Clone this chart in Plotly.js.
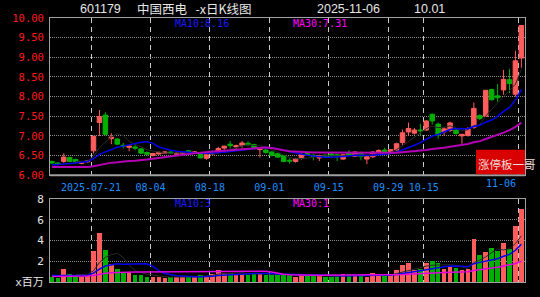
<!DOCTYPE html>
<html><head><meta charset="utf-8">
<script src="https://cdn.plot.ly/plotly-3.0.1.min.js"></script>
<style>html,body{margin:0;padding:0;background:#000;} #chart{width:540px;height:297px;}</style>
</head><body><div id="chart"></div>
<script>
// ---- data ----
const dates = ['07-10','07-11','07-14','07-15','07-16','07-17','07-18','07-21','07-22','07-23','07-24','07-25','07-28','07-29','07-30','07-31',
'08-01','08-04','08-05','08-06','08-07','08-08','08-11','08-12','08-13','08-14','08-15','08-18','08-19','08-20','08-21','08-22','08-25','08-26','08-27','08-28','08-29',
'09-01','09-02','09-03','09-04','09-05','09-08','09-09','09-10','09-11','09-12','09-15','09-16','09-17','09-18','09-19','09-22','09-23','09-24','09-25','09-26','09-29','09-30',
'10-09','10-10','10-13','10-14','10-15','10-16','10-17','10-20','10-21','10-22','10-23','10-24','10-27','10-28','10-29','10-30','10-31',
'11-03','11-04','11-05','11-06'];
const openP = [6.35,6.31,6.35,6.45,6.40,6.30,6.34,6.62,7.34,7.53, 6.93,6.92,6.76,6.71,6.72,6.67,6.58,6.50,6.54,6.56,
 6.59,6.53,6.55,6.62,6.57,6.55,6.43,6.54,6.58,6.69, 6.79,6.72,6.76,6.81,6.78,6.65,6.64,6.59,6.55,6.50,
 6.38,6.35,6.43,6.55,6.51,6.44,6.51,6.54,6.52,6.41, 6.57,6.48,6.57,6.41,6.47,6.58,6.64,6.59,6.64,6.83,
 7.10,7.07,7.15,7.15,7.55,7.30,7.10,7.14,7.15,7.00, 7.01,7.22,7.52,7.50,8.18,8.02,8.17,8.43,8.06,8.98];
const highP = [6.37,6.33,6.56,6.47,6.42,6.34,6.39,7.00,7.66,7.60, 7.07,6.94,6.82,6.75,6.77,6.68,6.60,6.57,6.61,6.61,
 6.61,6.58,6.61,6.64,6.61,6.56,6.53,6.62,6.72,6.75, 6.87,6.78,6.87,6.86,6.80,6.70,6.66,6.61,6.57,6.51,
 6.43,6.44,6.56,6.58,6.53,6.52,6.53,6.57,6.54,6.53, 6.64,6.61,6.60,6.49,6.61,6.66,6.70,6.67,6.83,7.16,
 7.34,7.20,7.31,7.40,7.57,7.34,7.23,7.36,7.18,7.05, 7.22,7.85,7.55,8.17,8.20,8.32,8.68,8.70,9.17,9.82];
const lowP = [6.29,6.25,6.31,6.33,6.32,6.28,6.32,6.55,7.00,7.02, 6.79,6.77,6.68,6.61,6.64,6.54,6.50,6.48,6.52,6.54,
 6.54,6.51,6.53,6.57,6.55,6.43,6.39,6.52,6.56,6.61, 6.68,6.64,6.70,6.74,6.70,6.45,6.55,6.48,6.44,6.33,
 6.29,6.32,6.40,6.49,6.38,6.36,6.46,6.45,6.36,6.39, 6.49,6.46,6.38,6.28,6.44,6.56,6.55,6.57,6.62,6.76,
 7.00,7.03,7.01,7.13,7.29,6.93,7.00,7.10,7.03,6.80, 6.98,7.18,7.40,7.48,7.90,7.87,8.05,8.09,8.00,8.73];
const closeP = [6.31,6.27,6.46,6.35,6.34,6.32,6.37,6.99,7.49,7.04, 6.97,6.79,6.74,6.74,6.69,6.56,6.53,6.55,6.58,6.59,
 6.56,6.56,6.59,6.59,6.59,6.44,6.52,6.58,6.68,6.74, 6.75,6.75,6.82,6.78,6.71,6.68,6.58,6.50,6.46,6.35,
 6.36,6.42,6.53,6.51,6.48,6.50,6.48,6.49,6.47,6.52, 6.51,6.59,6.48,6.47,6.59,6.63,6.59,6.65,6.80,7.08,
 7.19,7.15,7.13,7.38,7.38,7.02,7.18,7.33,7.06,7.04, 7.18,7.70,7.44,8.16,7.92,7.97,8.44,8.33,8.91,9.81];
const volume = [0.45,0.39,1.29,0.75,0.65,0.45,0.58,2.97,4.74,3.13, 1.75,1.29,0.86,0.96,0.72,0.71,0.50,0.45,0.50,0.42,
 0.47,0.50,0.47,0.47,0.60,0.72,0.60,0.76,1.20,0.82, 0.85,0.80,0.80,0.72,0.85,0.80,0.72,0.63,0.63,0.63,
 0.63,0.50,0.80,0.56,0.56,0.56,0.50,0.50,0.56,0.80, 0.80,0.56,0.56,0.50,0.88,0.72,0.63,0.63,1.20,1.60,
 1.79,1.20,1.28,1.79,2.00,1.85,1.28,1.45,1.35,1.16, 1.29,4.17,2.56,2.88,3.30,2.98,3.72,3.14,5.39,7.00];
const ma10PriceHead = [6.26,6.27,6.28,6.30,6.31,6.33,6.35,6.42,6.53];
const ma30PriceHead = [6.21,6.21,6.21,6.21,6.21,6.21,6.21,6.23,6.26,6.29,6.32,6.33,6.35,6.36,6.37,6.38,6.40,6.42,6.44,6.46,6.48,6.50,6.53,6.54,6.56,6.57,6.59,6.60,6.61];
const ma10VolHead = [0.62,0.62,0.63,0.63,0.64,0.64,0.65,0.85,1.25];
const ma30VolHead = [0.53,0.53,0.54,0.55,0.55,0.56,0.58,0.62,0.75,0.85,0.90,0.93,0.95,0.96,0.97,0.97,0.97,0.97,0.97,0.97,0.97,0.97,0.97,0.97,0.97,0.97,0.97,0.98,0.99];
const tickDates = ['07-21','08-04','08-18','09-01','09-15','09-29','10-15','11-06'];
const tickLabels = ['2025-07-21','08-04','08-18','09-01','09-15','09-29','10-15','11-06'];
const priceTicks = [6,6.5,7,7.5,8,8.5,9,9.5,10];
const volTicks = [0,2,4,6,8];
const volTickText = ['x百万','2','4','6','8'];

// ---- derived ----
const idx = dates.map((d,i)=>i);
function movAvg(arr, n, head){
  return arr.map((v,i)=>{
    if(i < n-1) return head ? head[i] : null;
    let s=0; for(let k=i-n+1;k<=i;k++) s+=arr[k]; return s/n;
  });
}
const ma5P = movAvg(closeP,5,null), ma10P = movAvg(closeP,10,ma10PriceHead), ma30P = movAvg(closeP,30,ma30PriceHead);
const ma5V = movAvg(volume,5,null), ma10V = movAvg(volume,10,ma10VolHead), ma30V = movAvg(volume,30,ma30VolHead);
const UP='#ff5c5c', DN='#00b000';
const volColors = idx.map(i=> closeP[i]>=openP[i]?UP:DN);
const tickPos = tickDates.map(d=>dates.indexOf(d)-0.42);
const tickText = tickLabels.map((t,i)=> i===tickLabels.length-1 ? '' : t);

const traces = [
 {type:'candlestick', x:idx, open:openP, high:highP, low:lowP, close:closeP, xaxis:'x', yaxis:'y',
  increasing:{line:{color:UP,width:1}, fillcolor:UP}, decreasing:{line:{color:DN,width:1}, fillcolor:DN},
  whiskerwidth:0, hoverinfo:'skip', showlegend:false},
 {type:'scatter', mode:'lines', x:idx, y:ma5P, line:{color:'#2a2a2a',width:1}, xaxis:'x', yaxis:'y', hoverinfo:'skip'},
 {type:'scatter', mode:'lines', x:idx, y:ma10P, line:{color:'#0000ee',width:1.5}, xaxis:'x', yaxis:'y', hoverinfo:'skip'},
 {type:'scatter', mode:'lines', x:idx, y:ma30P, line:{color:'#b400b4',width:2}, xaxis:'x', yaxis:'y', hoverinfo:'skip'},
 {type:'bar', x:idx, y:volume, width:0.78, marker:{color:volColors, line:{width:0}}, xaxis:'x2', yaxis:'y2', hoverinfo:'skip'},
 {type:'scatter', mode:'lines', x:idx, y:ma5V, line:{color:'#2a2a2a',width:1}, xaxis:'x2', yaxis:'y2', hoverinfo:'skip'},
 {type:'scatter', mode:'lines', x:idx, y:ma10V, line:{color:'#0000ee',width:1.5}, xaxis:'x2', yaxis:'y2', hoverinfo:'skip'},
 {type:'scatter', mode:'lines', x:idx, y:ma30V, line:{color:'#e000e0',width:1.5}, xaxis:'x2', yaxis:'y2', hoverinfo:'skip'}
];

const mono = 'DejaVu Sans Mono, Noto Sans CJK SC, monospace';
const frame = {showline:true, linecolor:'#a0a0a0', linewidth:1, mirror:true, zeroline:false, fixedrange:true};
const xCommon = Object.assign({}, frame, {range:[-0.32,79.61], tickmode:'array', tickvals:tickPos, showgrid:true,
  gridcolor:'#c8c8c8', griddash:'5px,4px', gridwidth:1, ticks:''});

const plotTop=18, plotBot=282.5, plotH=plotBot-plotTop;
const py = p => (plotBot-p)/plotH;   // pixel y -> paper
const px = p => (p-50)/475;          // pixel x -> paper

const layout = {
  width:540, height:297, paper_bgcolor:'#000', plot_bgcolor:'#000',
  margin:{l:50, r:15, t:plotTop, b:297-plotBot, pad:0},
  showlegend:false, hovermode:false, boxgap:0.2, boxgroupgap:0.05, bargap:0,
  xaxis: Object.assign({}, xCommon, {anchor:'y', domain:[0,1], ticktext:tickText, rangeslider:{visible:false},
    tickfont:{family:mono, size:10, color:'#1e8fff'}, ticklabelstandoff:3}),
  xaxis2: Object.assign({}, xCommon, {anchor:'y2', domain:[0,1], matches:'x', showticklabels:false, rangeslider:{visible:false}}),
  yaxis: Object.assign({}, frame, {domain:[py(175.5),1], range:[6,10], tickmode:'array', tickvals:priceTicks,
    ticktext:priceTicks.map(v=>v.toFixed(2)), tickfont:{family:mono, size:10.5, color:'#ff1a1a'}, ticks:'',
    showgrid:true, gridcolor:'#8a8a8a', griddash:'1px,1px', ticklabelstandoff:3}),
  yaxis2: Object.assign({}, frame, {domain:[0,py(199.3)], range:[0,8], tickmode:'array', tickvals:volTicks,
    ticktext:volTickText, tickfont:{family:mono, size:11, color:'#e6e6e6'}, ticks:'',
    showgrid:true, gridcolor:'#8a8a8a', griddash:'1px,1px', ticklabelstandoff:3}),
  shapes:[
    {type:'line', xref:'paper', yref:'paper', x0:0, x1:1, y0:py(175.5), y1:py(175.5), line:{color:'#a0a0a0', width:2}, layer:'above'},
    {type:'rect', xref:'paper', yref:'paper', x0:px(476), x1:1, y0:py(174.5), y1:py(150), fillcolor:'#d80000', line:{width:0}, layer:'above'}
  ],
  annotations:[
    {xref:'paper', yref:'paper', x:px(78), y:py(8.5), xanchor:'left', yanchor:'middle', showarrow:false,
     text:'601179', font:{family:'Liberation Sans, Arial', size:12.5, color:'#e6e6e6'}},
    {xref:'paper', yref:'paper', x:px(135), y:py(8.5), xanchor:'left', yanchor:'middle', showarrow:false,
     text:'中国西电\u00a0\u00a0\u00a0-x日K线图', font:{family:'Noto Sans CJK SC, Liberation Sans', size:12.5, color:'#e6e6e6'}},
    {xref:'paper', yref:'paper', x:px(315), y:py(8.5), xanchor:'left', yanchor:'middle', showarrow:false,
     text:'2025-11-06', font:{family:'Liberation Sans, Arial', size:12.5, color:'#e6e6e6'}},
    {xref:'paper', yref:'paper', x:px(412), y:py(8.5), xanchor:'left', yanchor:'middle', showarrow:false,
     text:'10.01', font:{family:'Liberation Sans, Arial', size:12.5, color:'#e6e6e6'}},
    {xref:'paper', yref:'paper', x:px(172.5), y:py(23.5), xanchor:'left', yanchor:'middle', showarrow:false,
     text:'MA10:8.16', font:{family:mono, size:10, color:'#1a1aff'}},
    {xref:'paper', yref:'paper', x:px(291), y:py(23.5), xanchor:'left', yanchor:'middle', showarrow:false,
     text:'MA30:7.31', font:{family:mono, size:10, color:'#ff00ff'}},
    {xref:'paper', yref:'paper', x:px(172.5), y:py(203.7), xanchor:'left', yanchor:'middle', showarrow:false,
     text:'MA10:3', font:{family:mono, size:10, color:'#1a1aff'}},
    {xref:'paper', yref:'paper', x:px(291), y:py(203.7), xanchor:'left', yanchor:'middle', showarrow:false,
     text:'MA30:1', font:{family:mono, size:10, color:'#ff00ff'}},
    {xref:'x', yref:'paper', x:tickPos[tickPos.length-1], xshift:-1, y:py(184), xanchor:'right', yanchor:'middle', showarrow:false,
     text:tickLabels[tickLabels.length-1], font:{family:mono, size:10, color:'#1e8fff'}},
    {xref:'paper', yref:'paper', x:px(476), y:py(164), xanchor:'left', yanchor:'middle', showarrow:false,
     text:'涨停板一哥', font:{family:'Noto Sans CJK SC', size:11.5, color:'#f2dede'}}
  ]
};
Plotly.newPlot('chart', traces, layout, {staticPlot:true, displayModeBar:false});
</script></body></html>
